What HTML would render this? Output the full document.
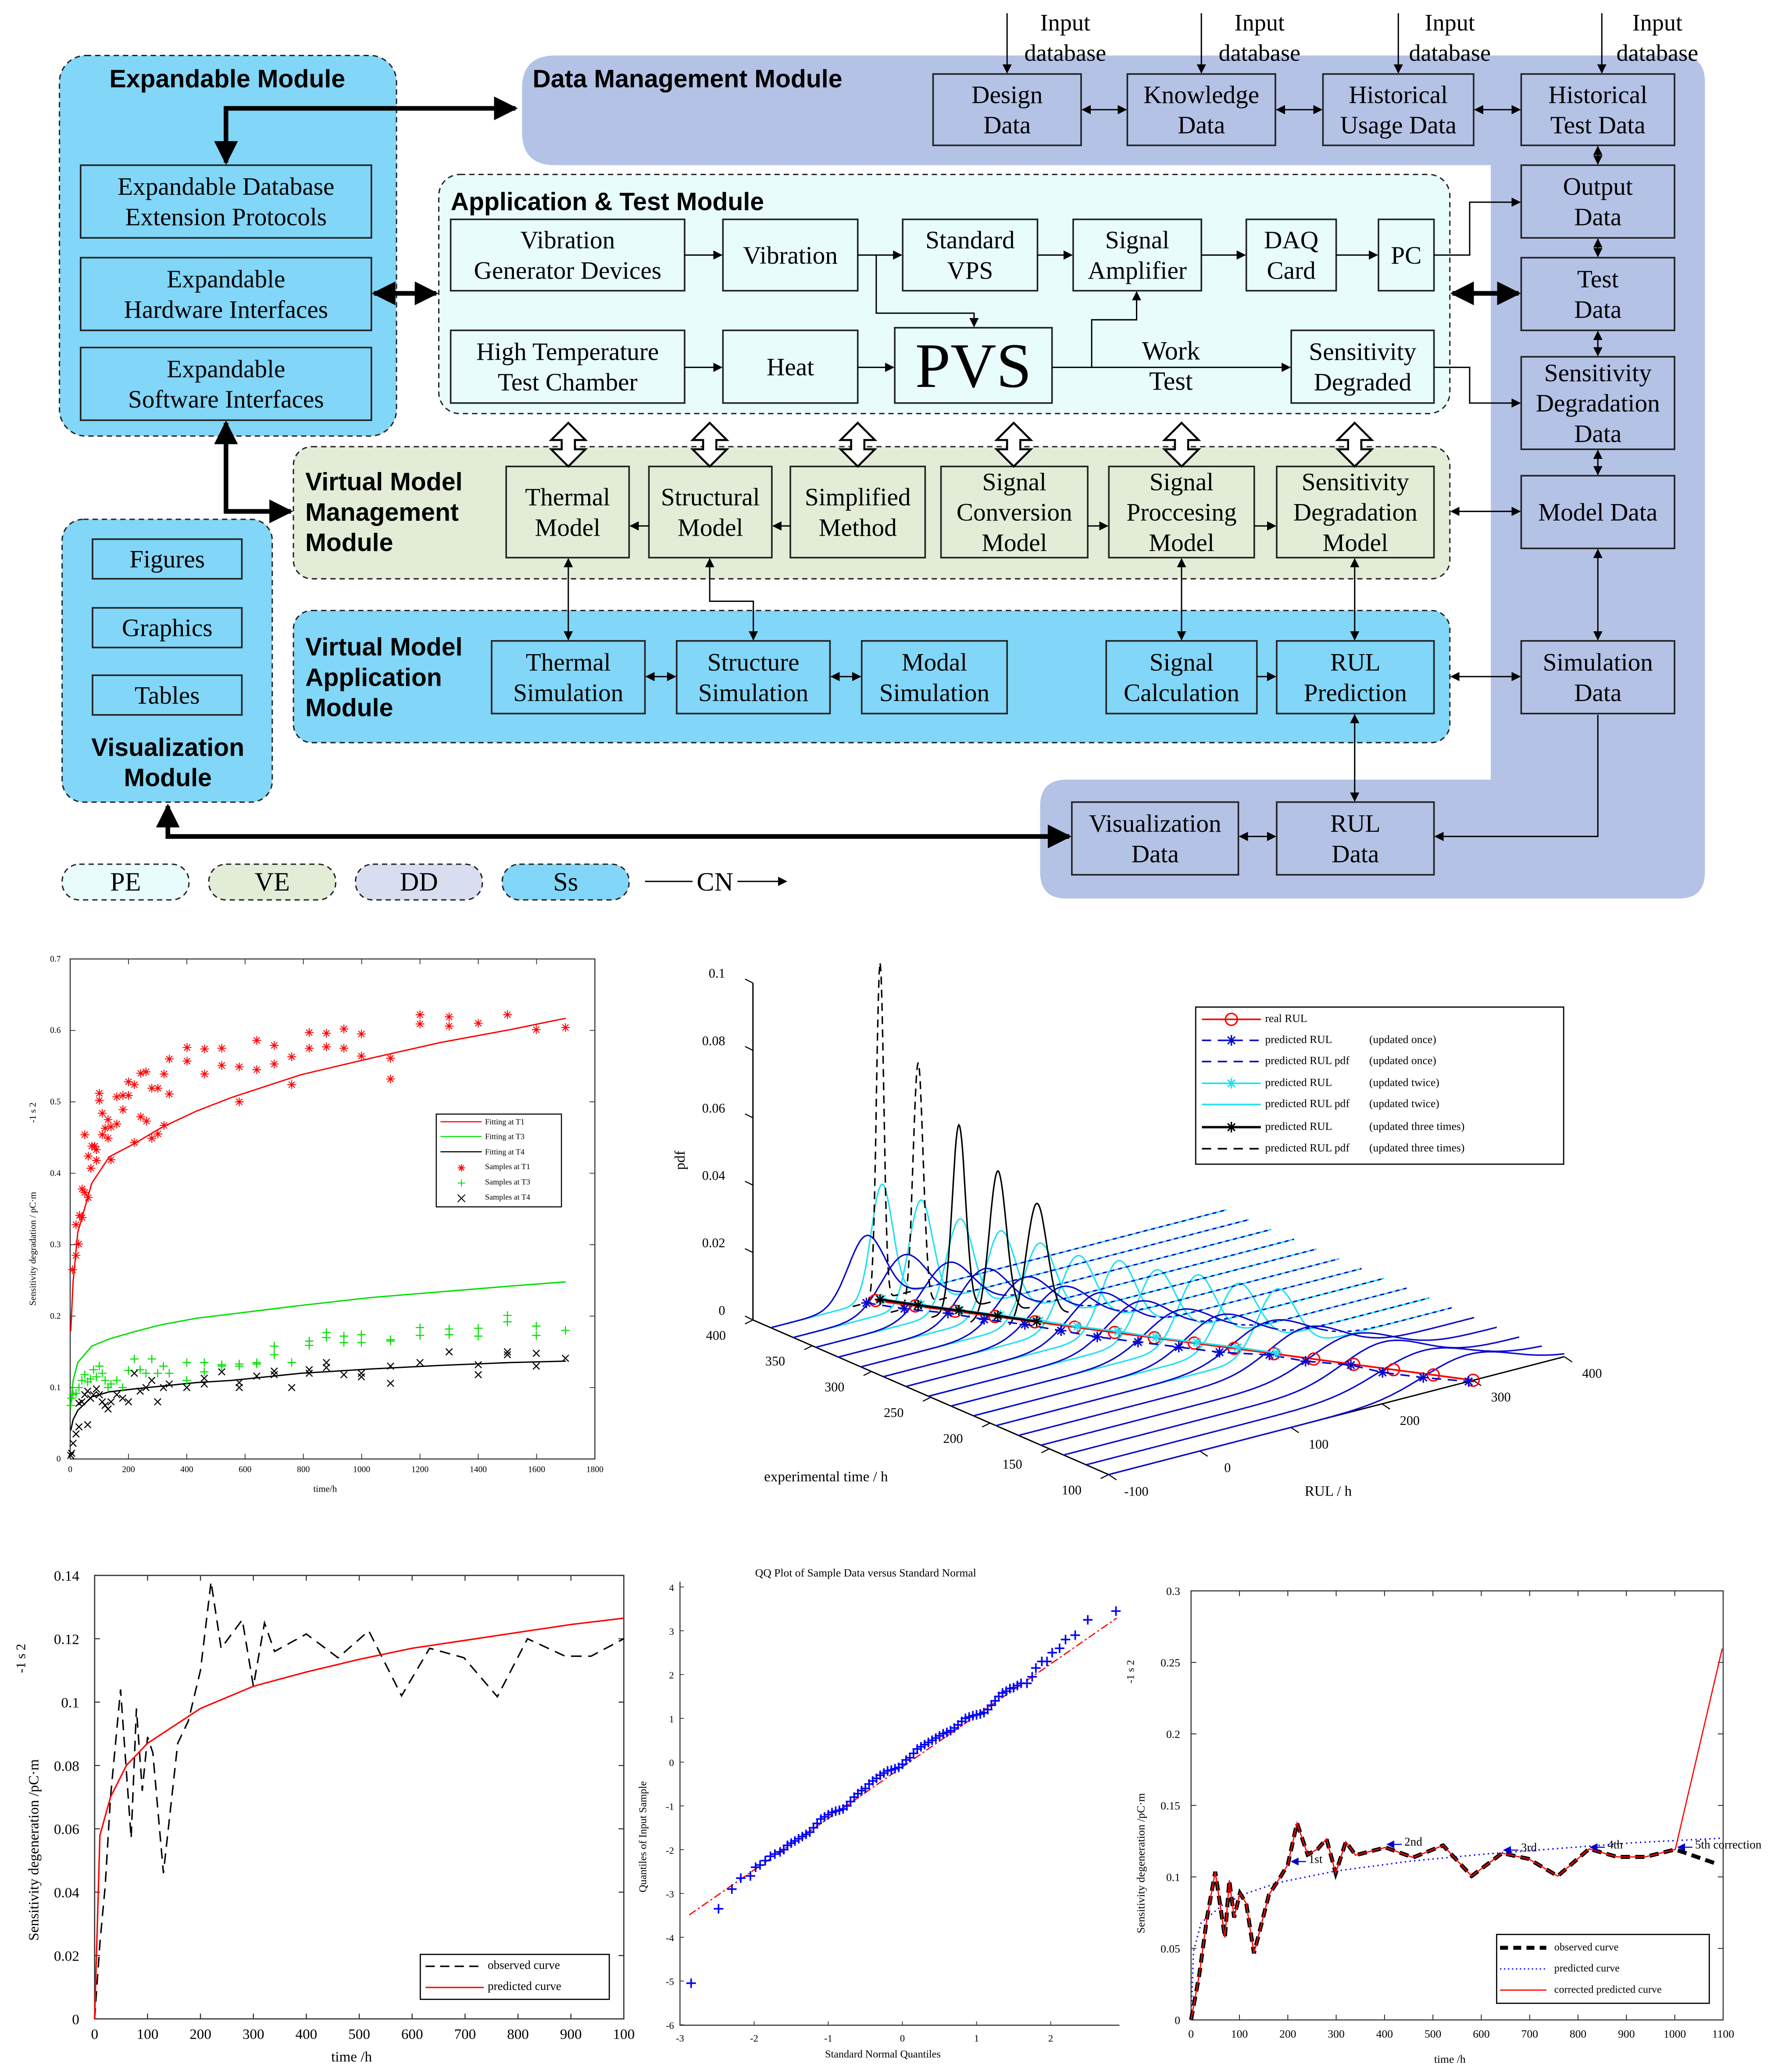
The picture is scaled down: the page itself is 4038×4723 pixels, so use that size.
<!DOCTYPE html>
<html><head><meta charset="utf-8"><title>Sensitivity degradation framework and charts</title>
<style>
html,body{margin:0;padding:0;background:#fff;}
svg{display:block;}
.bt{font-family:"Liberation Serif",serif;fill:#000;text-anchor:middle;}
.mt{font-family:"Liberation Sans",sans-serif;font-weight:bold;font-size:19px;fill:#000;}
.ax{font-family:"Liberation Serif",serif;fill:#000;}
</style></head>
<body>
<svg id="root" xmlns="http://www.w3.org/2000/svg" width="4038" height="4723" viewBox="0 0 1340 1568" preserveAspectRatio="none">
<defs>
<marker id="ah" viewBox="0 0 10 10" refX="9" refY="5" markerWidth="7" markerHeight="7" orient="auto-start-reverse" markerUnits="userSpaceOnUse"><path d="M0,0 L10,5 L0,10 z" fill="#000"/></marker>
<marker id="ahb" viewBox="0 0 10 10" refX="9" refY="5" markerWidth="18" markerHeight="18" orient="auto-start-reverse" markerUnits="userSpaceOnUse"><path d="M0,0 L10,5 L0,10 z" fill="#000"/></marker>
<marker id="ahs" viewBox="0 0 10 10" refX="9" refY="5" markerWidth="6" markerHeight="6" orient="auto-start-reverse" markerUnits="userSpaceOnUse"><path d="M0,0 L10,5 L0,10 z" fill="#00c"/></marker>
</defs>
<rect x="0" y="0" width="1340" height="1568" fill="#fff"/>

<path d="M420,42 H1270 Q1290,42 1290,62 V660 Q1290,680 1270,680 H807 Q787,680 787,660 V610 Q787,590 807,590 H1128 V125 H420 Q395,125 395,100 V67 Q395,42 420,42 Z" fill="#b4c2e6"/>
<rect x="45" y="42" width="255" height="288" rx="20" fill="#82d6f7" stroke="#222" stroke-dasharray="4,3"/>
<rect x="332" y="132" width="765" height="181" rx="16" fill="#e8fcfc" stroke="#222" stroke-dasharray="4,3"/>
<rect x="222" y="338" width="875" height="100" rx="14" fill="#e3ecd6" stroke="#222" stroke-dasharray="4,3"/>
<rect x="222" y="462" width="875" height="100" rx="14" fill="#82d6f7" stroke="#222" stroke-dasharray="4,3"/>
<rect x="47" y="393" width="159" height="214" rx="16" fill="#82d6f7" stroke="#222" stroke-dasharray="4,3"/>

<text class="mt" x="172" y="66" text-anchor="middle">Expandable Module</text>
<text class="mt" x="403" y="66">Data Management  Module</text>
<text class="mt" x="341" y="159">Application &amp; Test Module</text>
<text class="mt" x="231" y="371"><tspan x="231" y="371">Virtual Model</tspan><tspan x="231" y="394">Management</tspan><tspan x="231" y="417">Module</tspan></text>
<text class="mt" x="231" y="496"><tspan x="231" y="496">Virtual Model</tspan><tspan x="231" y="519">Application</tspan><tspan x="231" y="542">Module</tspan></text>
<text class="mt" x="127" y="572" text-anchor="middle"><tspan x="127" y="572">Visualization</tspan><tspan x="127" y="595">Module</tspan></text>

<g id="boxes"></g>
<g id="arrows" stroke="#000" fill="none">
 <polyline points="390,82 171,82 171,123" stroke-width="3.5" marker-start="url(#ahb)" marker-end="url(#ahb)"/>
 <line x1="283" y1="222" x2="330" y2="222" stroke-width="3.5" marker-start="url(#ahb)" marker-end="url(#ahb)"/>
 <polyline points="171,320 171,387 220,387" stroke-width="3.5" marker-start="url(#ahb)" marker-end="url(#ahb)"/>
 <polyline points="127,610 127,633 809,633" stroke-width="3.5" marker-start="url(#ahb)" marker-end="url(#ahb)"/>
 <line x1="1099" y1="222" x2="1149" y2="222" stroke-width="3.5" marker-start="url(#ahb)" marker-end="url(#ahb)"/>
 <line x1="518" y1="193" x2="546" y2="193" marker-end="url(#ah)"/>
 <line x1="649" y1="193" x2="682" y2="193" marker-end="url(#ah)"/>
 <polyline points="663,193 663,237 737,237 737,247" marker-end="url(#ah)"/>
 <line x1="785" y1="193" x2="811" y2="193" marker-end="url(#ah)"/>
 <line x1="909" y1="193" x2="942" y2="193" marker-end="url(#ah)"/>
 <line x1="1011" y1="193" x2="1042" y2="193" marker-end="url(#ah)"/>
 <polyline points="1085,193 1112,193 1112,153 1150,153" marker-end="url(#ah)"/>
 <line x1="518" y1="278" x2="546" y2="278" marker-end="url(#ah)"/>
 <line x1="649" y1="278" x2="676" y2="278" marker-end="url(#ah)"/>
 <line x1="796" y1="278" x2="976" y2="278" marker-end="url(#ah)"/>
 <polyline points="826,278 826,242 860,242 860,221" marker-end="url(#ah)"/>
 <polyline points="1085,278 1112,278 1112,305 1150,305" marker-end="url(#ah)"/>
 <line x1="819" y1="83" x2="852" y2="83" marker-start="url(#ah)" marker-end="url(#ah)"/>
 <line x1="966" y1="83" x2="1000" y2="83" marker-start="url(#ah)" marker-end="url(#ah)"/>
 <line x1="1116" y1="83" x2="1150" y2="83" marker-start="url(#ah)" marker-end="url(#ah)"/>
 <line x1="762" y1="10" x2="762" y2="55" marker-end="url(#ah)"/>
 <line x1="909" y1="10" x2="909" y2="55" marker-end="url(#ah)"/>
 <line x1="1058" y1="10" x2="1058" y2="55" marker-end="url(#ah)"/>
 <line x1="1212" y1="10" x2="1212" y2="55" marker-end="url(#ah)"/>
 <line x1="1209" y1="111" x2="1209" y2="124" marker-start="url(#ah)" marker-end="url(#ah)"/>
 <line x1="1209" y1="181" x2="1209" y2="194" marker-start="url(#ah)" marker-end="url(#ah)"/>
 <line x1="1209" y1="251" x2="1209" y2="269" marker-start="url(#ah)" marker-end="url(#ah)"/>
 <line x1="1209" y1="341" x2="1209" y2="359" marker-start="url(#ah)" marker-end="url(#ah)"/>
 <line x1="1209" y1="416" x2="1209" y2="484" marker-start="url(#ah)" marker-end="url(#ah)"/>
 <line x1="1098" y1="387" x2="1150" y2="387" marker-start="url(#ah)" marker-end="url(#ah)"/>
 <line x1="1098" y1="512" x2="1150" y2="512" marker-start="url(#ah)" marker-end="url(#ah)"/>
 <polyline points="1209,541 1209,633 1086,633" marker-end="url(#ah)"/>
 <line x1="1025" y1="541" x2="1025" y2="606" marker-start="url(#ah)" marker-end="url(#ah)"/>
 <line x1="938" y1="633" x2="965" y2="633" marker-start="url(#ah)" marker-end="url(#ah)"/>
 <line x1="491" y1="398" x2="477" y2="398" marker-end="url(#ah)"/>
 <line x1="598" y1="398" x2="585" y2="398" marker-end="url(#ah)"/>
 <line x1="823" y1="398" x2="838" y2="398" marker-end="url(#ah)"/>
 <line x1="949" y1="398" x2="965" y2="398" marker-end="url(#ah)"/>
 <line x1="430" y1="423" x2="430" y2="484" marker-start="url(#ah)" marker-end="url(#ah)"/>
 <polyline points="537,423 537,455 570,455 570,484" marker-start="url(#ah)" marker-end="url(#ah)"/>
 <line x1="894" y1="423" x2="894" y2="484" marker-start="url(#ah)" marker-end="url(#ah)"/>
 <line x1="1025" y1="423" x2="1025" y2="484" marker-start="url(#ah)" marker-end="url(#ah)"/>
 <line x1="489" y1="512" x2="511" y2="512" marker-start="url(#ah)" marker-end="url(#ah)"/>
 <line x1="629" y1="512" x2="651" y2="512" marker-start="url(#ah)" marker-end="url(#ah)"/>
 <line x1="951" y1="512" x2="965" y2="512" marker-end="url(#ah)"/>
</g>
<g id="hollow"></g>
<text class="bt" font-size="20" x="886" y="272">Work</text>
<text class="bt" font-size="20" x="886" y="295">Test</text>
<g id="inputs"></g>

<rect x="47" y="654" width="96" height="27" rx="13" fill="#e8fcfc" stroke="#222" stroke-dasharray="4,3"/>
<rect x="158" y="654" width="96" height="27" rx="13" fill="#e3ecd6" stroke="#222" stroke-dasharray="4,3"/>
<rect x="269" y="654" width="96" height="27" rx="13" fill="#d8ddf0" stroke="#222" stroke-dasharray="4,3"/>
<rect x="380" y="654" width="96" height="27" rx="13" fill="#82d6f7" stroke="#222" stroke-dasharray="4,3"/>
<text class="bt" font-size="20" x="95" y="674">PE</text>
<text class="bt" font-size="20" x="206" y="674">VE</text>
<text class="bt" font-size="20" x="317" y="674">DD</text>
<text class="bt" font-size="20" x="428" y="674">Ss</text>
<line x1="488" y1="667" x2="524" y2="667" stroke="#000"/>
<text class="bt" font-size="20" x="541" y="674">CN</text>
<line x1="558" y1="667" x2="595" y2="667" stroke="#000" marker-end="url(#ah)"/>

<g id="c1"></g>
<g id="c2"></g>
<g id="c3"></g>
<g id="c4"></g>
<g id="c5"></g>
</svg>
<script>
const NS='http://www.w3.org/2000/svg';
function mk(p,tag,a,t){const e=document.createElementNS(NS,tag);for(const k in a)e.setAttribute(k,a[k]);if(t!=null)e.textContent=t;p.appendChild(e);return e;}

const boxNames=['design-data','knowledge-data','historical-usage-data','historical-test-data','output-data','test-data','sensitivity-degradation-data','model-data','simulation-data','visualization-data','rul-data','expandable-database','expandable-hardware','expandable-software','vibration-generator','vibration','standard-vps','signal-amplifier','daq-card','pc','high-temperature-chamber','heat','pvs','sensitivity-degraded','thermal-model','structural-model','simplified-method','signal-conversion-model','signal-processing-model','sensitivity-degradation-model','thermal-simulation','structure-simulation','modal-simulation','signal-calculation','rul-prediction','figures','graphics','tables'];
const boxRects=[[706,56,818,110],[853,56,965,110],[1001,56,1115,110],[1151,56,1267,110],[1151,125,1267,180],[1151,195,1267,250],[1151,270,1267,340],[1151,360,1267,415],[1151,485,1267,540],[811,607,937,662],[966,607,1085,662],[61,125,281,180],[61,195,281,250],[61,263,281,318],[341,166,518,220],[547,166,649,220],[683,166,785,220],[812,166,909,220],[943,166,1011,220],[1043,166,1085,220],[341,250,518,305],[547,250,649,305],[677,248,796,305],[977,250,1085,305],[383,353,476,422],[491,353,584,422],[598,353,700,422],[712,353,823,422],[839,353,949,422],[966,353,1085,422],[372,485,488,540],[512,485,628,540],[652,485,762,540],[837,485,951,540],[966,485,1085,540],[70,408,183,438],[70,460,183,490],[70,511,183,541]];
const boxText=[['Design','Data'],['Knowledge','Data'],['Historical','Usage Data'],['Historical','Test Data'],['Output','Data'],['Test','Data'],['Sensitivity','Degradation','Data'],['Model Data'],['Simulation','Data'],['Visualization','Data'],['RUL','Data'],['Expandable Database','Extension Protocols'],['Expandable','Hardware Interfaces'],['Expandable','Software Interfaces'],['Vibration','Generator Devices'],['Vibration'],['Standard','VPS'],['Signal','Amplifier'],['DAQ','Card'],['PC'],['High Temperature','Test Chamber'],['Heat'],['PVS'],['Sensitivity','Degraded'],['Thermal','Model'],['Structural','Model'],['Simplified','Method'],['Signal','Conversion','Model'],['Signal','Proccesing','Model'],['Sensitivity','Degradation','Model'],['Thermal','Simulation'],['Structure','Simulation'],['Modal','Simulation'],['Signal','Calculation'],['RUL','Prediction'],['Figures'],['Graphics'],['Tables']];
const boxFill=i=>(i<=10?'#b4c2e6':i<=13?'#82d6f7':i<=23?'#e8fcfc':i<=29?'#e3ecd6':'#82d6f7');
const G=document.getElementById('boxes');
boxRects.forEach((r,i)=>{
  const g=mk(G,'g',{});
  
  
  mk(g,'rect',{x:r[0],y:r[1],width:r[2]-r[0],height:r[3]-r[1],fill:boxFill(i),stroke:'#222','stroke-width':1.2});
  const L=boxText[i],cx=(r[0]+r[2])/2,cy=(r[1]+r[3])/2;
  const fs=L[0]==='PVS'?48:19;
  const lh=23;
  L.forEach((s,j)=>{
    const y=cy+(j-(L.length-1)/2)*lh+fs*0.34;
    const t=mk(g,'text',{x:cx,y:y,class:'bt','font-size':fs},s);
    
    
  });
});
const hollowX=[430,537,649,767,894,1025];
const H=document.getElementById('hollow');
hollowX.forEach(x=>{
  const p=mk(H,'path',{d:`M${x},320 L${x+13},333 L${x+5},333 L${x+5},340 L${x+13},340 L${x},353 L${x-13},340 L${x-5},340 L${x-5},333 L${x-13},333 Z`,fill:'#fff',stroke:'#000','stroke-width':1.5});
  
  
});
const inputX=[806,953,1097,1254];
const IG=document.getElementById('inputs');
inputX.forEach(x=>{
  const a=mk(IG,'text',{x:x,y:23,class:'bt','font-size':18},'Input');
  
  
  const b=mk(IG,'text',{x:x,y:46,class:'bt','font-size':18},'database');
  
  
});

function marker(g,type,x,y,s,color,w){
  let d='';
  if(type==='star'){d=`M${x-s},${y}H${x+s}M${x},${y-s}V${y+s}M${x-s*.7},${y-s*.7}L${x+s*.7},${y+s*.7}M${x-s*.7},${y+s*.7}L${x+s*.7},${y-s*.7}`;}
  else if(type==='plus'){d=`M${x-s},${y}H${x+s}M${x},${y-s}V${y+s}`;}
  else if(type==='x'){d=`M${x-s},${y-s}L${x+s},${y+s}M${x-s},${y+s}L${x+s},${y-s}`;}
  if(type==='circle'){return mk(g,'circle',{cx:x,cy:y,r:s,fill:'none',stroke:color,'stroke-width':w||1});}
  return mk(g,'path',{d:d,stroke:color,'stroke-width':w||1,fill:'none'});
}
function txt(g,x,y,s,fs,anchor,extra){const a=Object.assign({x:x,y:y,class:'ax','font-size':fs,'text-anchor':anchor||'middle'},extra||{});return mk(g,'text',a,s);}

// ===== Chart 1 =====
const c1FitX=[2,10,26,74,134,218,313,433,553,792,1031,1270,1509,1700];
const c1FitT1=[0.179,0.248,0.317,0.386,0.423,0.441,0.464,0.487,0.506,0.538,0.561,0.583,0.601,0.617];
const c1FitT3=[0.075,0.11,0.135,0.158,0.168,0.178,0.188,0.197,0.203,0.215,0.226,0.234,0.242,0.248];
const c1FitT4=[0.040,0.055,0.068,0.087,0.094,0.098,0.102,0.107,0.110,0.120,0.126,0.131,0.135,0.137];
const c1T1x=[8,20,20,29,32,41,41,50,62,50,62,71,74,84,90,90,100,100,110,110,120,130,130,140,140,160,160,181,181,200,200,220,220,242,242,260,262,280,280,301,301,322,322,340,340,401,401,461,461,520,520,580,580,640,640,700,700,760,760,820,820,879,879,939,939,999,999,1099,1099,1200,1200,1300,1300,1400,1500,1599,1699];
const c1T1y=[0.265,0.285,0.328,0.301,0.341,0.338,0.378,0.373,0.366,0.454,0.424,0.407,0.438,0.438,0.418,0.433,0.512,0.502,0.484,0.454,0.463,0.475,0.449,0.419,0.465,0.507,0.469,0.509,0.489,0.528,0.509,0.524,0.443,0.540,0.479,0.542,0.473,0.519,0.449,0.519,0.455,0.539,0.467,0.560,0.511,0.576,0.557,0.574,0.539,0.575,0.551,0.549,0.500,0.586,0.545,0.579,0.553,0.563,0.524,0.597,0.575,0.596,0.577,0.602,0.575,0.595,0.564,0.561,0.532,0.622,0.609,0.619,0.606,0.610,0.622,0.601,0.604];
const c1T3x=[2,5,10,20,30,40,50,60,70,80,90,100,110,120,130,140,160,180,200,220,240,260,280,300,320,340,400,400,460,460,520,520,580,580,640,640,700,700,760,820,820,879,879,939,939,999,999,1099,1099,1200,1200,1300,1300,1400,1400,1500,1500,1599,1599,1699];
const c1T3y=[0.075,0.085,0.09,0.092,0.1,0.11,0.118,0.108,0.112,0.125,0.115,0.13,0.12,0.11,0.1,0.105,0.11,0.1,0.124,0.14,0.125,0.12,0.14,0.12,0.13,0.12,0.135,0.11,0.135,0.122,0.13,0.132,0.133,0.13,0.135,0.133,0.146,0.158,0.135,0.159,0.165,0.17,0.177,0.163,0.172,0.163,0.174,0.165,0.167,0.173,0.184,0.174,0.182,0.183,0.172,0.192,0.201,0.186,0.173,0.180];
const c1T4x=[2,5,10,20,30,30,40,50,60,60,70,80,90,100,110,120,130,140,160,180,200,220,240,260,280,300,320,340,400,460,460,520,580,580,640,700,700,760,820,820,879,879,939,999,999,1099,1099,1200,1300,1400,1400,1500,1500,1599,1599,1699];
const c1T4y=[0.005,0.008,0.022,0.035,0.045,0.078,0.08,0.09,0.095,0.048,0.085,0.09,0.098,0.09,0.08,0.075,0.07,0.08,0.09,0.085,0.08,0.12,0.095,0.1,0.11,0.08,0.1,0.105,0.1,0.105,0.113,0.122,0.1,0.107,0.116,0.118,0.123,0.1,0.12,0.125,0.128,0.135,0.118,0.115,0.12,0.106,0.13,0.135,0.15,0.118,0.132,0.146,0.15,0.13,0.148,0.141];
const c1XTicks=[0,200,400,600,800,1000,1200,1400,1600,1800];
const c1YTicks=[0,0.1,0.2,0.3,0.4,0.5,0.6,0.7];
const c1YLabels=['0','0.1','0.2','0.3','0.4','0.5','0.6','0.7'];
(function(){
  const g=document.getElementById('c1');
  const X=x=>53.1+x/1800*397,Y=y=>1104.1-y/0.7*378.4;
  const box=mk(g,'rect',{x:53.1,y:725.7,width:397,height:378.4,fill:'#fff',stroke:'#333','stroke-width':0.8});
  
  
  c1XTicks.forEach(v=>{
    mk(g,'path',{d:`M${X(v)},1104.1v-4M${X(v)},725.7v4`,stroke:'#333','stroke-width':0.6});
    const t=txt(g,X(v),1114,String(v),6.5);
    
    
  });
  c1YTicks.forEach((v,i)=>{
    mk(g,'path',{d:`M53.1,${Y(v)}h4M450.1,${Y(v)}h-4`,stroke:'#333','stroke-width':0.6});
    const t=txt(g,46,Y(v)+2,c1YLabels[i],6.5,'end');
    
    
  });
  const xl=txt(g,246,1129,'time/h',7);
  
  
  const yl=txt(g,27,945,'Sensitivity degradation / pC·m',7,'middle',{transform:'rotate(-90 27 945)'});
  
  
  const yl2=txt(g,27,842,'-1   s  2',7,'middle',{transform:'rotate(-90 27 842)'});
  
  
  const fits=[[c1FitT1,'#f00','fit-t1'],[c1FitT3,'#0d0','fit-t3'],[c1FitT4,'#000','fit-t4']];
  fits.forEach(f=>{
    const pl=mk(g,'polyline',{points:c1FitX.map((x,i)=>X(x)+','+Y(f[0][i])).join(' '),fill:'none',stroke:f[1],'stroke-width':1});
    
    
  });
  c1T1x.forEach((x,i)=>{const m=marker(g,'star',X(x),Y(c1T1y[i]),3.3,'#f00',0.7);
    
    });
  c1T3x.forEach((x,i)=>{const m=marker(g,'plus',X(x),Y(c1T3y[i]),3.2,'#0d0',0.8);
    
    });
  c1T4x.forEach((x,i)=>{const m=marker(g,'x',X(x),Y(c1T4y[i]),2.5,'#000',0.8);
    
    });
  const lg=mk(g,'rect',{x:330.1,y:843.1,width:94.7,height:70.2,fill:'#fff',stroke:'#000','stroke-width':0.8});
  
  
  const lab=['Fitting at T1','Fitting at T3','Fitting at T4','Samples at T1','Samples at T3','Samples at T4'];
  const ly=[848.9,860.1,871.6,882.8,894.3,905.8];
  lab.forEach((s,i)=>{
    if(i<3){mk(g,'line',{x1:333.3,x2:364.5,y1:ly[i],y2:ly[i],stroke:['#f00','#0d0','#000'][i],'stroke-width':0.8});}
    else{marker(g,['star','plus','x'][i-3],349.1,ly[i]+1,2.8,['#f00','#0d0','#000'][i-3],0.7);}
    const t=txt(g,367,ly[i]+2,s,6,'start');
    
    
  });
})();

// ===== Chart 2 =====
const c2Times=[385,366,347,328,309,290,271,252,233,214,195,176,157,138,119,100];
const c2RealRul=[15,34,53,72,91,110,129,148,167,186,205,224,243,262,281,300];
const c2OnceMean=[5,22,45,60,80,95,110,130,150,170,200,215,240,250,270,295];
const c2OncePeak=[0.020,0.016,0.015,0.015,0.014,0.013,0.013,0.012,0.011,0.011,0.010,0.010,0.009,0.009,0.008,0.008];
const c2TwiceMean=[22,40,58,78,96,113,133,150,170,190,208];
const c2TwicePeak=[0.034,0.031,0.027,0.025,0.023,0.021,0.021,0.020,0.020,0.019,0.019];
const c2ThriceMean=[20,37,57,75,93];
const c2ThricePeak=[0.100,0.072,0.055,0.043,0.035];
const c2TimeTicks=[400,350,300,250,200,150,100];
const c2RulTicks=[-100,0,100,200,300,400];
const c2PdfTicks=[0,0.02,0.04,0.06,0.08,0.1];
const c2PdfLabels=['0','0.02','0.04','0.06','0.08','0.1'];
(function(){
  const g=document.getElementById('c2');
  const P=(t,r,p)=>[838.8+(t-100)*(-0.897)+(r+100)*0.6896, 1115.9+(t-100)*(-0.390)+(r+100)*(-0.1784)-p*2550];
  const pt=a=>a[0].toFixed(1)+','+a[1].toFixed(1);
  const a1=mk(g,'polyline',{points:[P(400,-100,0.1),P(400,-100,0),P(100,-100,0),P(100,400,0)].map(pt).join(' '),fill:'none',stroke:'#000','stroke-width':1});
  
  
  c2PdfTicks.forEach((v,i)=>{const q=P(400,-100,v);
    mk(g,'line',{x1:q[0],y1:q[1],x2:q[0]-6,y2:q[1]-3,stroke:'#000','stroke-width':0.8});
    const t=txt(g,q[0]-21,q[1]-4,c2PdfLabels[i],10,'end');
    
    });
  c2TimeTicks.forEach(v=>{const q=P(v,-100,0);
    mk(g,'line',{x1:q[0],y1:q[1],x2:q[0]-6,y2:q[1]+3,stroke:'#000','stroke-width':0.8});
    const t=txt(g,q[0]-28,q[1]+15,String(v),10);
    
    });
  c2RulTicks.forEach(v=>{const q=P(100,v,0);
    mk(g,'line',{x1:q[0],y1:q[1],x2:q[0]+6,y2:q[1]+4,stroke:'#000','stroke-width':0.8});
    const t=txt(g,q[0]+21,q[1]+16,String(v),10);
    
    });
  const tl=txt(g,625,1121,'experimental time / h',11);
  
  
  const rl=txt(g,1005,1132,'RUL / h',11);
  
  
  const pl=txt(g,518,878,'pdf',11,'middle',{transform:'rotate(-90 518 878)'});
  
  
  function curve(t,mean,peak,color,dash,name,r0,r1){
    const sig=0.3989/peak;const pts=[];
    for(let r=r0;r<=r1;r+=1){pts.push(pt(P(t,r,peak*Math.exp(-0.5*((r-mean)/sig)**2))));}
    const e=mk(g,'polyline',{points:pts.join(' '),fill:'none',stroke:color,'stroke-width':1.1});
    if(dash)e.setAttribute('stroke-dasharray',dash);
    
    
  }
  c2TwiceMean.forEach((m,i)=>curve(c2Times[i],m,c2TwicePeak[i],'#22e0f0',null,'pdf-updated-twice',-100,400));
  c2Times.forEach((t,i)=>{
    const m=c2OnceMean[i],hasC=i<c2TwiceMean.length;
    curve(t,m,c2OncePeak[i],'#0a0acc',null,'pdf-updated-once',-100,Math.min(400,m+60));
    if(m+60<400)curve(t,m,c2OncePeak[i],'#0a0acc',hasC?'3,3':null,'pdf-updated-once-tail',m+60,400);
  });
  c2ThriceMean.forEach((m,i)=>curve(c2Times[i],m,c2ThricePeak[i],'#000',i<2?'6,4':null,'pdf-updated-three-times',m-30,m+35));
  function series(means,color,dash,mk2,name,w){
    const pts=means.map((m,i)=>P(c2Times[i],m,0));
    const l=mk(g,'polyline',{points:pts.map(pt).join(' '),fill:'none',stroke:color,'stroke-width':w||1.2});
    if(dash)l.setAttribute('stroke-dasharray',dash);
    
    
    pts.forEach(q=>{const m=marker(g,mk2,q[0],q[1],mk2==='circle'?4.5:4,color,1.1);
      
      });
  }
  series(c2RealRul,'#f00',null,'circle','real-rul',1.3);
  series(c2OnceMean,'#0a0acc','7,5','star','predicted-rul-once');
  series(c2TwiceMean,'#22e0f0',null,'star','predicted-rul-twice');
  series(c2ThriceMean,'#000',null,'star','predicted-rul-three',1.6);
  const lg=mk(g,'rect',{x:904.7,y:762.1,width:278.4,height:118.9,fill:'#fff',stroke:'#000','stroke-width':0.9});
  
  
  const ly=[771.4,787.3,803.3,819.8,835.8,853,869.3];
  const lc=['#f00','#0a0acc','#0a0acc','#22e0f0','#22e0f0','#000','#000'];
  const ld=[null,'7,5','7,5',null,null,null,'7,5'];
  const lm=['circle','star',null,'star',null,'star',null];
  const l1=['real RUL','predicted RUL','predicted RUL pdf','predicted RUL','predicted RUL pdf','predicted RUL','predicted RUL pdf'];
  const l2=['','(updated once)','(updated once)','(updated twice)','(updated twice)','(updated three times)','(updated three times)'];
  ly.forEach((y,i)=>{
    const l=mk(g,'line',{x1:909.4,x2:954,y1:y,y2:y,stroke:lc[i],'stroke-width':i===5?1.8:1.2});
    if(ld[i])l.setAttribute('stroke-dasharray',ld[i]);
    if(lm[i])marker(g,lm[i],931.7,y,lm[i]==='circle'?4.5:4,lc[i],1.1);
    const t=txt(g,957.2,y+2,l1[i],8.5,'start');
    
    
    if(l2[i]){const t2=txt(g,1036,y+2,l2[i],8.5,'start');
      
      }
  });
})();

// ===== Chart 3 =====
const c3ObsX=[0,10,20,30,49,69,79,90,100,110,130,157,177,200,220,239,279,300,321,340,400,460,518,580,633,698,761,818,889,938,1000];
const c3ObsY=[0,0.024,0.042,0.07,0.104,0.057,0.098,0.072,0.089,0.084,0.046,0.087,0.094,0.110,0.138,0.117,0.126,0.105,0.125,0.116,0.1215,0.114,0.1225,0.102,0.117,0.114,0.1017,0.120,0.1145,0.1145,0.120];
const c3PredX=[0,10,30,60,100,200,300,400,500,600,700,800,900,1000];
const c3PredY=[0,0.058,0.07,0.08,0.087,0.098,0.105,0.1095,0.1135,0.117,0.1195,0.122,0.1245,0.1265];
const c3XTicks=[0,100,200,300,400,500,600,700,800,900,1000];
const c3XLabels=['0','100','200','300','400','500','600','700','800','900','100'];
const c3YTicks=[0,0.02,0.04,0.06,0.08,0.1,0.12,0.14];
const c3YLabels=['0','0.02','0.04','0.06','0.08','0.1','0.12','0.14'];
(function(){
  const g=document.getElementById('c3');
  const X=x=>71.6+x/1000*400.4,Y=y=>1527.8-y/0.14*335.6;
  const b=mk(g,'rect',{x:71.6,y:1192.2,width:400.4,height:335.6,fill:'#fff',stroke:'#333','stroke-width':0.9});
  
  
  c3XTicks.forEach((v,i)=>{mk(g,'path',{d:`M${X(v)},1527.8v-4M${X(v)},1192.2v4`,stroke:'#333','stroke-width':0.8});
    const t=txt(g,X(v),1543,c3XLabels[i],11);
    
    });
  c3YTicks.forEach((v,i)=>{mk(g,'path',{d:`M71.6,${Y(v)}h4M472,${Y(v)}h-4`,stroke:'#333','stroke-width':0.8});
    const t=txt(g,60,Y(v)+4,c3YLabels[i],11,'end');
    
    });
  const xl=txt(g,266,1560,'time /h',11);
  
  
  const yl=txt(g,29,1400,'Sensitivity degeneration /pC·m',11,'middle',{transform:'rotate(-90 29 1400)'});
  
  
  const yl2=txt(g,19,1255,'-1   s  2',10,'middle',{transform:'rotate(-90 19 1255)'});
  
  
  const o=mk(g,'polyline',{points:c3ObsX.map((x,i)=>X(x)+','+Y(c3ObsY[i])).join(' '),fill:'none',stroke:'#000','stroke-width':1.1,'stroke-dasharray':'8,5'});
  
  
  const p=mk(g,'polyline',{points:c3PredX.map((x,i)=>X(x)+','+Y(c3PredY[i])).join(' '),fill:'none',stroke:'#f00','stroke-width':1.1});
  
  
  const lg=mk(g,'rect',{x:318,y:1479,width:143,height:34,fill:'#fff',stroke:'#000','stroke-width':0.9});
  
  
  mk(g,'line',{x1:322,x2:366,y1:1488,y2:1488,stroke:'#000','stroke-dasharray':'7,4','stroke-width':1.1});
  mk(g,'line',{x1:322,x2:366,y1:1504,y2:1504,stroke:'#f00','stroke-width':1});
  const e1=txt(g,369,1490,'observed curve',9,'start');
  
  
  const e2=txt(g,369,1506,'predicted curve',9,'start');
  
  
})();

// ===== Chart 4 QQ =====
const qqX=[-2.85,-2.48,-2.3,-2.18,-2.05,-1.98,-1.92,-1.85,-1.78,-1.72,-1.65,-1.6,-1.55,-1.5,-1.45,-1.4,-1.35,-1.3,-1.25,-1.2,-1.15,-1.1,-1.05,-1.0,-0.95,-0.9,-0.85,-0.8,-0.75,-0.7,-0.65,-0.6,-0.55,-0.5,-0.45,-0.4,-0.35,-0.3,-0.25,-0.2,-0.15,-0.1,-0.05,0,0.05,0.1,0.15,0.2,0.25,0.3,0.35,0.4,0.45,0.5,0.55,0.6,0.65,0.7,0.75,0.8,0.85,0.9,0.95,1.0,1.05,1.1,1.15,1.2,1.25,1.3,1.35,1.4,1.45,1.5,1.55,1.6,1.68,1.75,1.8,1.88,1.95,2.02,2.12,2.2,2.33,2.5,2.88];
const qqY=[-5.05,-3.35,-2.9,-2.65,-2.6,-2.4,-2.35,-2.25,-2.15,-2.1,-2.05,-2.0,-1.9,-1.85,-1.8,-1.75,-1.7,-1.65,-1.6,-1.5,-1.4,-1.3,-1.25,-1.2,-1.15,-1.12,-1.1,-1.07,-1.0,-0.9,-0.8,-0.72,-0.65,-0.6,-0.5,-0.43,-0.37,-0.3,-0.25,-0.2,-0.18,-0.15,-0.12,-0.05,0.05,0.1,0.2,0.3,0.35,0.4,0.45,0.5,0.55,0.6,0.65,0.68,0.72,0.78,0.85,0.93,1.0,1.03,1.06,1.08,1.1,1.13,1.2,1.3,1.4,1.5,1.58,1.62,1.68,1.7,1.75,1.8,1.8,1.95,2.15,2.3,2.3,2.5,2.6,2.8,2.9,3.25,3.45];
const qqRefX=[-2.875,2.89];
const qqRefY=[-3.49,3.29];
const qqXTicks=[-3,-2,-1,0,1,2];
const qqYTicks=[-6,-5,-4,-3,-2,-1,0,1,2,3,4];
(function(){
  const g=document.getElementById('c4');
  const X=x=>682.8+x*56.1,Y=y=>1333.5-y*33.13;
  const ax=mk(g,'path',{d:'M514.5,1197 V1532.6 H847',fill:'none',stroke:'#333','stroke-width':0.8});
  
  
  qqXTicks.forEach(v=>{mk(g,'path',{d:`M${X(v)},1532.6v-3`,stroke:'#333','stroke-width':0.6});
    const t=txt(g,X(v),1545,String(v),7.5);
    
    });
  qqYTicks.forEach(v=>{mk(g,'path',{d:`M514.5,${Y(v)}h3`,stroke:'#333','stroke-width':0.6});
    const t=txt(g,510,Y(v)+3,String(v),7.5,'end');
    
    });
  const ti=txt(g,655,1193,'QQ Plot of Sample Data versus Standard Normal',8.5);
  
  
  const xl=txt(g,668,1557,'Standard Normal Quantiles',8);
  
  
  const yl=txt(g,489,1390,'Quantiles of Input Sample',8,'middle',{transform:'rotate(-90 489 1390)'});
  
  
  const r=mk(g,'line',{x1:X(qqRefX[0]),y1:Y(qqRefY[0]),x2:X(qqRefX[1]),y2:Y(qqRefY[1]),stroke:'#f00','stroke-width':0.9,'stroke-dasharray':'6,2,1.5,2'});
  
  
  qqX.forEach((x,i)=>{const m=marker(g,'plus',X(x),Y(qqY[i]),3.6,'#00f',1.2);
    
    });
})();

// ===== Chart 5 =====
const c5ObsX=[0,17,33,50,70,79,89,101,114,130,161,184,200,219,241,262,280,299,320,340,402,459,521,580,643,698,758,823,881,939,1001,1083];
const c5ObsY=[0,0.0316,0.0716,0.1036,0.0576,0.0976,0.0716,0.0886,0.0816,0.0466,0.0876,0.0996,0.1086,0.1376,0.1156,0.1196,0.1266,0.1026,0.1246,0.1152,0.1206,0.1136,0.122,0.1006,0.1166,0.1126,0.1006,0.1196,0.114,0.114,0.1192,0.1096];
const c5CorrX=[0,17,33,50,70,79,89,101,114,130,161,184,200,219,241,262,280,299,320,340,402,459,521,580,643,698,758,823,881,939,1001,1098];
const c5CorrY=[0,0.0316,0.0716,0.1036,0.0576,0.0976,0.0716,0.0886,0.0816,0.0466,0.0876,0.0996,0.1086,0.1376,0.1156,0.1196,0.1266,0.1026,0.1246,0.1152,0.1206,0.1136,0.122,0.1006,0.1166,0.1126,0.1006,0.1196,0.114,0.114,0.1192,0.2596];
const c5PredX=[0,5,21,64,110,180,297,453,608,764,919,1094];
const c5PredY=[0,0.048,0.068,0.08,0.088,0.096,0.104,0.111,0.116,0.12,0.124,0.127];
const c5AnnX=[243,441,682,861,1042];
const c5AnnY=[0.1126,0.1246,0.1206,0.1226,0.1226];
const c5AnnText=['1st','2nd','3rd','4th','5th correction'];
const c5XTicks=[0,100,200,300,400,500,600,700,800,900,1000,1100];
const c5YTicks=[0,0.05,0.1,0.15,0.2,0.25,0.3];
const c5YLabels=['0','0.05','0.1','0.15','0.2','0.25','0.3'];
(function(){
  const g=document.getElementById('c5');
  const X=x=>901.2+x/1100*402.6,Y=y=>1528.6-y/0.3*324.7;
  const b=mk(g,'rect',{x:901.2,y:1203.9,width:402.6,height:324.7,fill:'#fff',stroke:'#333','stroke-width':0.8});
  
  
  c5XTicks.forEach(v=>{mk(g,'path',{d:`M${X(v)},1528.6v-4M${X(v)},1203.9v4`,stroke:'#333','stroke-width':0.7});
    const t=txt(g,X(v),1542,String(v),8.5);
    
    });
  c5YTicks.forEach((v,i)=>{mk(g,'path',{d:`M901.2,${Y(v)}h4M1303.8,${Y(v)}h-4`,stroke:'#333','stroke-width':0.7});
    const t=txt(g,893,Y(v)+3,c5YLabels[i],8.5,'end');
    
    });
  const xl=txt(g,1097,1561,'time /h',8.5);
  
  
  const yl=txt(g,866,1410,'Sensitivity degeneration /pC·m',8.5,'middle',{transform:'rotate(-90 866 1410)'});
  
  
  const yl2=txt(g,858,1265,'-1   s  2',8,'middle',{transform:'rotate(-90 858 1265)'});
  
  
  const pr=mk(g,'polyline',{points:c5PredX.map((x,i)=>X(x)+','+Y(c5PredY[i])).join(' '),fill:'none',stroke:'#00f','stroke-width':1.1,'stroke-dasharray':'1,2.5'});
  
  
  const ob=mk(g,'polyline',{points:c5ObsX.map((x,i)=>X(x)+','+Y(c5ObsY[i])).join(' '),fill:'none',stroke:'#000','stroke-width':3,'stroke-dasharray':'7,4'});
  
  
  const co=mk(g,'polyline',{points:c5CorrX.map((x,i)=>X(x)+','+Y(c5CorrY[i])).join(' '),fill:'none',stroke:'#f00','stroke-width':0.9});
  
  
  c5AnnX.forEach((x,i)=>{
    const a=mk(g,'line',{x1:X(x)-2,y1:Y(c5AnnY[i])+2,x2:X(x)-13,y2:Y(c5AnnY[i])+2,stroke:'#00c','stroke-width':0.8,'marker-end':'url(#ahs)'});
    
    
    const t=txt(g,X(x),Y(c5AnnY[i])+3,c5AnnText[i],9,'start',{fill:'#00c'});
    
    
  });
  const lg=mk(g,'rect',{x:1132.4,y:1463.9,width:160.9,height:52.1,fill:'#fff',stroke:'#000','stroke-width':0.9});
  
  
  mk(g,'line',{x1:1135,x2:1170,y1:1474,y2:1474,stroke:'#000','stroke-width':3,'stroke-dasharray':'6,4'});
  mk(g,'line',{x1:1135,x2:1170,y1:1490,y2:1490,stroke:'#00f','stroke-width':1,'stroke-dasharray':'1,2'});
  mk(g,'line',{x1:1135,x2:1170,y1:1506,y2:1506,stroke:'#f00','stroke-width':0.9});
  ['observed curve','predicted curve','corrected predicted curve'].forEach((s,i)=>{
    const t=txt(g,1176,1474+16*i+2,s,8,'start');
    
    
  });
})();
</script>
</body></html>
